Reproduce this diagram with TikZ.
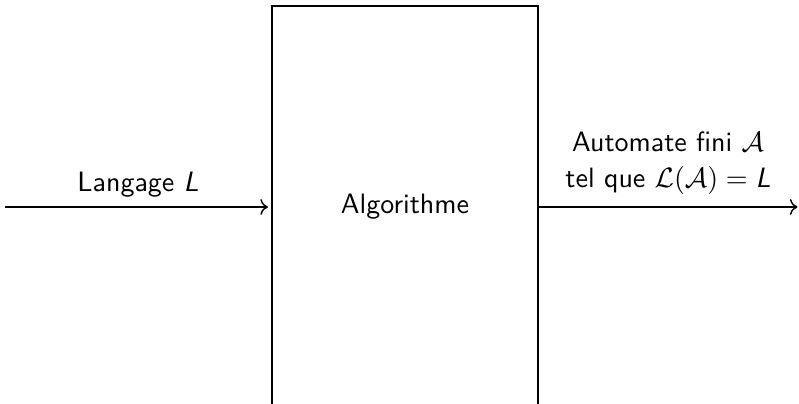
\documentclass[tikz,border=0pt]{standalone}
\usetikzlibrary{arrows.meta}
\renewcommand{\familydefault}{\sfdefault}
\begin{document}
\begin{tikzpicture}[x=0.1255mm, y=-0.1255mm,
  every node/.style={font=\sffamily},
  flow/.style={->, line width=0.5pt},
  algobox/.style={draw, line width=0.5pt, minimum width=266*0.1255mm, minimum height=402*0.1255mm, inner sep=0pt}]
  \useasboundingbox (0,0) rectangle (799,404);
  \clip (0,0) rectangle (799,404);
  \node[algobox] (algo) at (405,207) {Algorithme};
  \coordinate (src) at (5,207);
  \coordinate (dst) at (797.5,207);
  \draw[flow, shorten >=1.2pt] (src) -- node[above] (lang) {Langage \textsl{L}} (algo.west);
  \draw[flow] (algo.east) -- node[above, align=center, yshift=1pt] (auto) {Automate fini $\mathcal{A}$\\[0.9pt]tel que $\mathcal{L}(\mathcal{A}) = \mbox{\sffamily\slshape L}$} (dst);
\end{tikzpicture}
\end{document}
